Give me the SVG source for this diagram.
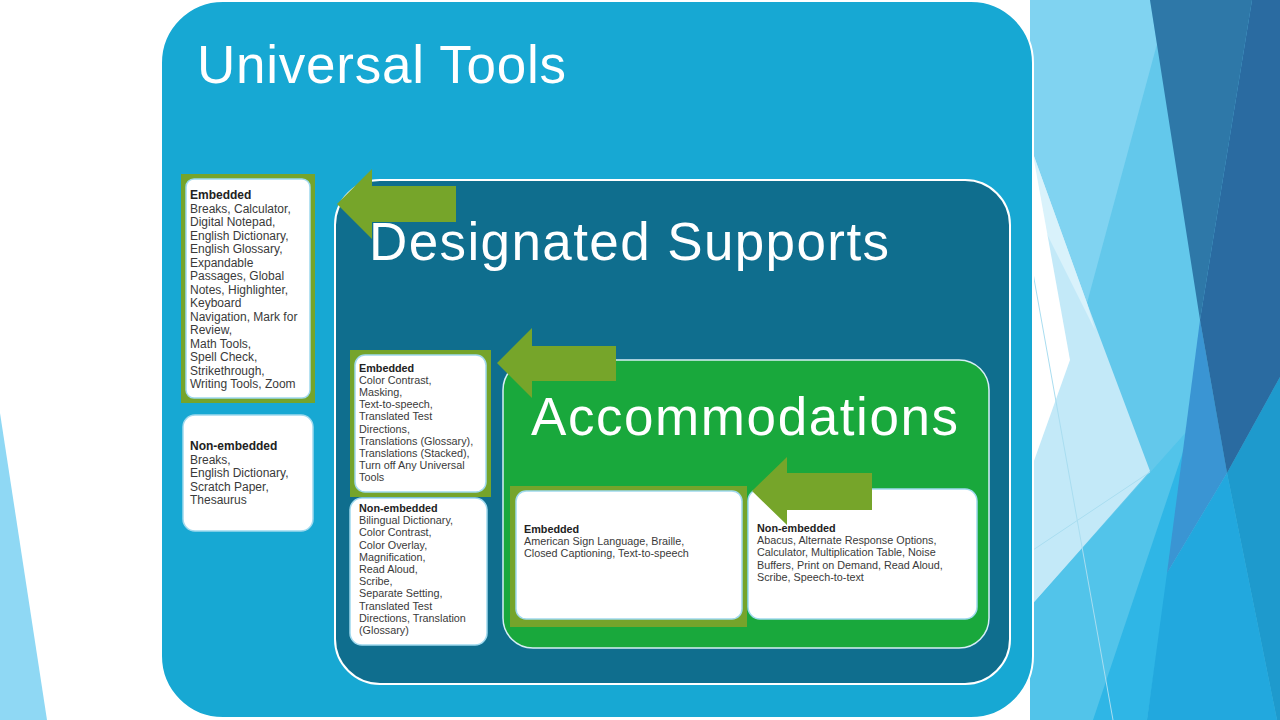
<svg xmlns="http://www.w3.org/2000/svg" width="1280" height="720" viewBox="0 0 1280 720">
<style>
.title{font-family:"Liberation Sans",Arial,sans-serif;font-size:53px;fill:#ffffff;}
.body{font-family:"Liberation Sans",Arial,sans-serif;fill:#3a3a3a;}
.hd{font-weight:bold;fill:#222222;}
.card{fill:#ffffff;stroke:#9fd9ee;stroke-width:1.5;}
.frame{fill:#75a42b;}
.arrow{fill:#76a52a;}
.thin{stroke:#a9ddf0;stroke-width:1;fill:none;}
</style>
<g id="background">
<rect x="0" y="0" width="1280" height="720" fill="#ffffff"/>
<polygon points="0,413 47,720 0,720" fill="#8fd8f4"/>
<rect x="1030" y="0" width="250" height="720" fill="#63c8eb"/>
<polygon points="1030,0 1150,0 1157,44 1087,303 1030,145" fill="#80d3f1"/>
<polygon points="1030,145 1087,303 1150,471 1030,607" fill="#c3e9f8"/>
<polygon points="1030,145 1087,303 1095,330 1030,200" fill="#d9f2fb"/>
<polygon points="1030,138 1070,360 1030,472" fill="#ffffff"/>
<polygon points="1030,607 1188,430 1280,327 1280,720 1030,720" fill="#52c4ea"/>
<polygon points="1093,720 1188,437 1147,720" fill="#2fb6e6"/>
<polygon points="1167,573 1227,473 1277,720 1147,720" fill="#22a8de"/>
<polygon points="1200,320 1227,473 1167,573" fill="#3a95d3"/>
<polygon points="1227,473 1280,377 1280,720 1277,720" fill="#1e9acd"/>
<polygon points="1150,0 1252,0 1200,320" fill="#2e78a8"/>
<polygon points="1252,0 1280,0 1280,377 1227,473 1200,320" fill="#2a6ba1"/>
<path class="thin" d="M1033,273 L1113,720"/>
<path class="thin" d="M1033,550 L1150,472"/>
</g>
<g id="node-universal">
<rect x="161" y="1" width="872" height="717" rx="62" ry="62" fill="#17a8d3" stroke="#ffffff" stroke-width="2"/>
<text class="title" x="197" y="83" textLength="369" lengthAdjust="spacing">Universal Tools</text>
</g>
<g id="node-designated">
<rect x="335" y="180" width="675" height="504" rx="45" ry="45" fill="#0f6e8e" stroke="#ffffff" stroke-width="2"/>
<text class="title" x="369" y="260" textLength="520" lengthAdjust="spacing">Designated Supports</text>
</g>
<g id="node-accommodations">
<rect x="503" y="360" width="486" height="288" rx="30" ry="30" fill="#19a83c" stroke="#d6eef6" stroke-width="1.5"/>
<text class="title" x="531" y="435" textLength="427" lengthAdjust="spacing">Accommodations</text>
</g>
<g id="node-ut-embedded">
<rect class="frame" x="181" y="174" width="134" height="229"/>
<rect class="card" x="186" y="179" width="124" height="219" rx="8" ry="8"/>
<text class="body" x="190" y="199" font-size="12">
<tspan class="hd" x="190" y="199">Embedded</tspan>
<tspan x="190" y="212.5">Breaks, Calculator,</tspan>
<tspan x="190" y="226">Digital Notepad,</tspan>
<tspan x="190" y="239.5">English Dictionary,</tspan>
<tspan x="190" y="253">English Glossary,</tspan>
<tspan x="190" y="266.5">Expandable</tspan>
<tspan x="190" y="280">Passages, Global</tspan>
<tspan x="190" y="293.5">Notes, Highlighter,</tspan>
<tspan x="190" y="307">Keyboard</tspan>
<tspan x="190" y="320.5">Navigation, Mark for</tspan>
<tspan x="190" y="334">Review,</tspan>
<tspan x="190" y="347.5">Math Tools,</tspan>
<tspan x="190" y="361">Spell Check,</tspan>
<tspan x="190" y="374.5">Strikethrough,</tspan>
<tspan x="190" y="388">Writing Tools, Zoom</tspan>
</text>
</g>
<g id="node-ut-nonembedded">
<rect class="card" x="183" y="415" width="130" height="116" rx="12" ry="12"/>
<text class="body" x="190" y="450" font-size="12">
<tspan class="hd" x="190" y="450">Non-embedded</tspan>
<tspan x="190" y="463.5">Breaks,</tspan>
<tspan x="190" y="477">English Dictionary,</tspan>
<tspan x="190" y="490.5">Scratch Paper,</tspan>
<tspan x="190" y="504">Thesaurus</tspan>
</text>
</g>
<g id="node-ds-embedded">
<rect class="frame" x="350" y="350" width="141" height="147"/>
<rect class="card" x="355" y="355" width="131" height="137" rx="10" ry="10"/>
<text class="body" x="359" y="372" font-size="10.8">
<tspan class="hd" x="359" y="372">Embedded</tspan>
<tspan x="359" y="384.1">Color Contrast,</tspan>
<tspan x="359" y="396.2">Masking,</tspan>
<tspan x="359" y="408.3">Text-to-speech,</tspan>
<tspan x="359" y="420.4">Translated Test</tspan>
<tspan x="359" y="432.5">Directions,</tspan>
<tspan x="359" y="444.6">Translations (Glossary),</tspan>
<tspan x="359" y="456.7">Translations (Stacked),</tspan>
<tspan x="359" y="468.8">Turn off Any Universal</tspan>
<tspan x="359" y="480.9">Tools</tspan>
</text>
</g>
<g id="node-ds-nonembedded">
<rect class="card" x="350" y="498" width="137" height="147" rx="12" ry="12"/>
<text class="body" x="359" y="512" font-size="10.8">
<tspan class="hd" x="359" y="512">Non-embedded</tspan>
<tspan x="359" y="524.2">Bilingual Dictionary,</tspan>
<tspan x="359" y="536.4">Color Contrast,</tspan>
<tspan x="359" y="548.6">Color Overlay,</tspan>
<tspan x="359" y="560.8">Magnification,</tspan>
<tspan x="359" y="573">Read Aloud,</tspan>
<tspan x="359" y="585.2">Scribe,</tspan>
<tspan x="359" y="597.4">Separate Setting,</tspan>
<tspan x="359" y="609.6">Translated Test</tspan>
<tspan x="359" y="621.8">Directions, Translation</tspan>
<tspan x="359" y="634">(Glossary)</tspan>
</text>
</g>
<g id="node-acc-embedded">
<rect class="frame" x="510" y="486" width="237" height="141"/>
<rect class="card" x="516" y="491" width="226" height="128" rx="10" ry="10"/>
<text class="body" x="524" y="533" font-size="10.8">
<tspan class="hd" x="524" y="533">Embedded</tspan>
<tspan x="524" y="545.2">American Sign Language, Braille,</tspan>
<tspan x="524" y="557.4">Closed Captioning, Text-to-speech</tspan>
</text>
</g>
<g id="node-acc-nonembedded">
<rect class="card" x="748" y="489" width="229" height="130" rx="12" ry="12"/>
<text class="body" x="757" y="532" font-size="10.8">
<tspan class="hd" x="757" y="532">Non-embedded</tspan>
<tspan x="757" y="544.2">Abacus, Alternate Response Options,</tspan>
<tspan x="757" y="556.4">Calculator, Multiplication Table, Noise</tspan>
<tspan x="757" y="568.6">Buffers, Print on Demand, Read  Aloud,</tspan>
<tspan x="757" y="580.8">Scribe, Speech-to-text</tspan>
</text>
</g>
<g id="connectors">
<polygon class="arrow" points="337,204 372,169 372,186 456,186 456,222 372,222 372,239"/>
<polygon class="arrow" points="497,363 532,328 532,346 616,346 616,381 532,381 532,398"/>
<polygon class="arrow" points="752,491 787,457 787,473 872,473 872,510 787,510 787,525"/>
</g>
</svg>
